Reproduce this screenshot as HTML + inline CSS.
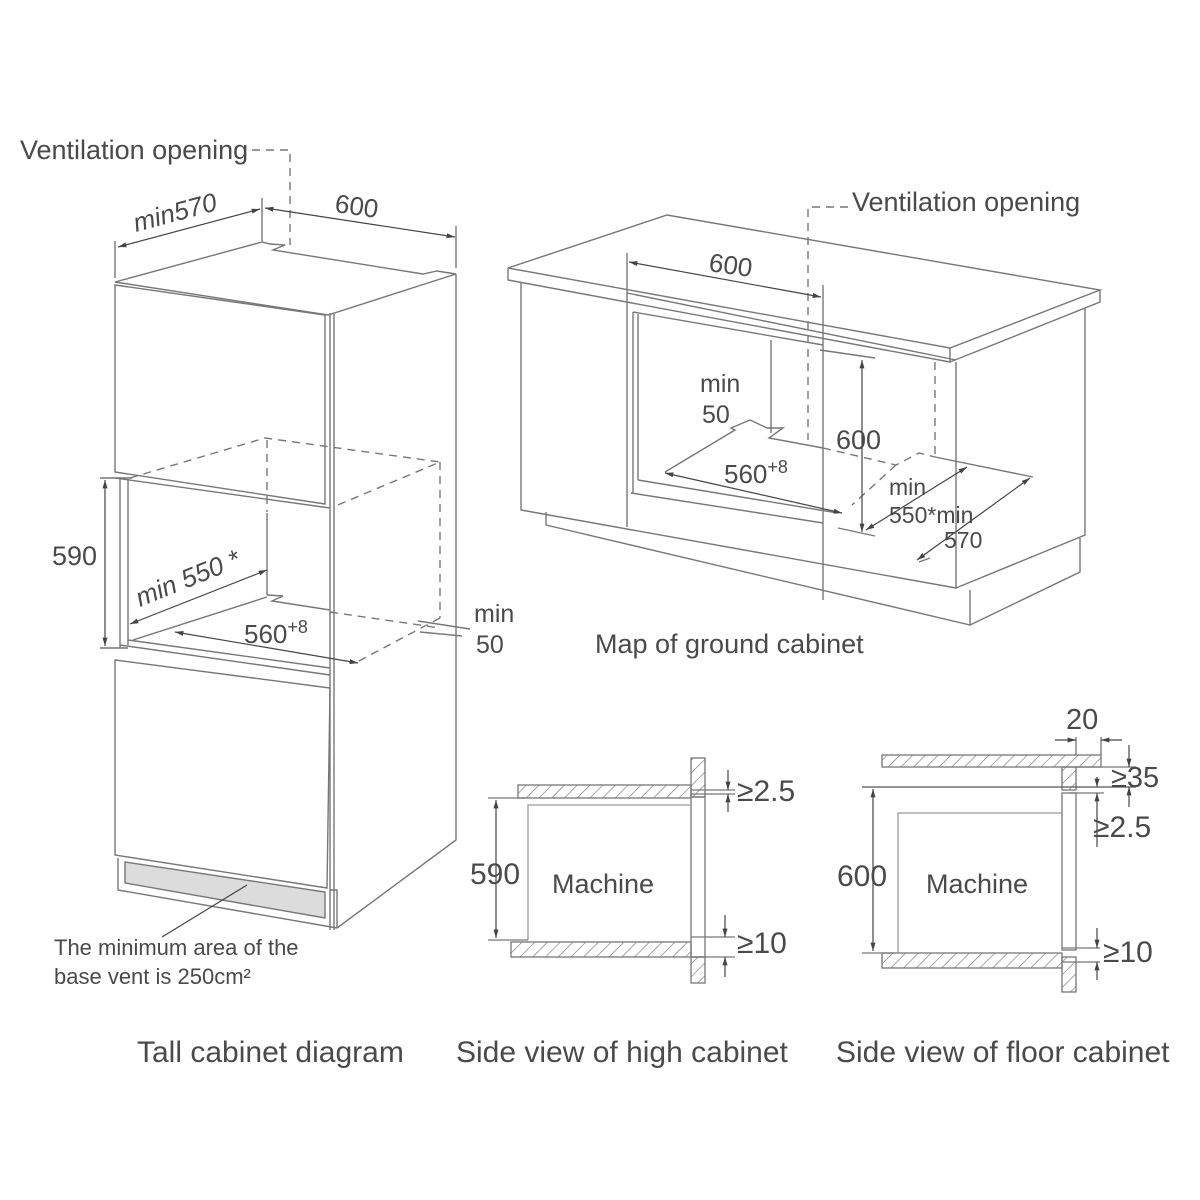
<!DOCTYPE html>
<html><head><meta charset="utf-8"><style>
html,body{margin:0;padding:0;background:#fff}
svg{display:block}
text{font-family:"Liberation Sans",Arial,sans-serif;fill:#4a4a4a}
</style></head><body>
<svg width="1200" height="1200" viewBox="0 0 1200 1200" xmlns="http://www.w3.org/2000/svg">
<defs>
<pattern id="h" patternUnits="userSpaceOnUse" width="9" height="9" patternTransform="rotate(45)">
<line x1="0" y1="0" x2="0" y2="9" stroke="#777" stroke-width="1.3"/></pattern>
<marker id="a" viewBox="0 0 10 10" refX="10" refY="5" markerWidth="7" markerHeight="7" orient="auto-start-reverse"><path d="M0,2 L10,5 L0,8 z" fill="#444"/></marker>
</defs>
<g fill="none" stroke="#777" stroke-width="1.4">
<path d="M115,282 L262,242 L270,244 L285,245 L273,250 L423,274 L437,271 L456,274 L328,315 Z"/>
<path d="M115,285 L325,315 L325,504 L115,472 Z"/>
<line x1="330" y1="313" x2="330" y2="930"/>
<line x1="334" y1="314" x2="334" y2="930"/>
<path d="M456,274 L456,840 L337,928"/>
<line x1="120" y1="478" x2="120" y2="648"/>
<line x1="128" y1="479" x2="128" y2="645"/>
<path d="M115,478 L330,508"/>
<line x1="267" y1="513" x2="267" y2="595"/>
<path d="M267,595 L283,596 L272,601 L330,610"/>
<path d="M133,640 L267,597"/>
<path d="M120,645 L330,675"/>
<path d="M128,640 L330,668"/>
<g stroke-dasharray="8,6">
<path d="M130,478 L265,438 L440,462 L333,507"/>
<line x1="267" y1="440" x2="267" y2="512"/>
<line x1="440" y1="462" x2="440" y2="618"/>
<path d="M330,612 L440,628"/>
<path d="M440,618 L357,662"/>
<path d="M252,150 L290,150 L290,245"/>
</g>
<path d="M418,621 L470,629 M420,632 L462,636" />
<path d="M115,660 L330,688 L327,888 L115,855 Z"/>
<path d="M118,858 L118,890 L337,928"/>
<path d="M125,862 L125,883 L325,918 L325,892 Z" fill="#dcdcdc"/>
<path d="M330,890 L337,890 L337,928"/>
<line x1="115" y1="241" x2="115" y2="278"/>
<line x1="262" y1="198" x2="262" y2="241"/>
<line x1="456" y1="226" x2="456" y2="268"/>
<line x1="100" y1="478" x2="132" y2="478"/>
<line x1="100" y1="648" x2="128" y2="648"/>
</g>
<g stroke="#444" stroke-width="1.2" fill="none">
<line x1="118" y1="247" x2="260" y2="209" marker-start="url(#a)" marker-end="url(#a)"/>
<line x1="265" y1="208" x2="455" y2="237" marker-start="url(#a)" marker-end="url(#a)"/>
<line x1="105" y1="480" x2="105" y2="646" marker-start="url(#a)" marker-end="url(#a)"/>
<line x1="130" y1="624" x2="267" y2="570" marker-start="url(#a)" marker-end="url(#a)"/>
<line x1="175" y1="632" x2="358" y2="663" marker-start="url(#a)" marker-end="url(#a)"/>
<line x1="247" y1="885" x2="162" y2="937"/>
</g>
<text x="20" y="159" font-size="27">Ventilation opening</text>
<text x="0" y="0" font-size="26" font-style="italic" transform="translate(136,232) rotate(-15)">min570</text>
<text x="0" y="0" font-size="26" transform="translate(334,212) rotate(8)">600</text>
<text x="52" y="565" font-size="27">590</text>
<text x="0" y="0" font-size="26" font-style="italic" transform="translate(140,607) rotate(-22)">min 550 *</text>
<text x="244" y="643" font-size="26">560<tspan font-size="18" dy="-10">+8</tspan></text>
<text x="474" y="622" font-size="25">min</text>
<text x="476" y="653" font-size="25">50</text>
<text x="54" y="955" font-size="22">The minimum area of the</text>
<text x="54" y="984" font-size="22">base vent is 250cm²</text>

<g fill="none" stroke="#777" stroke-width="1.4">
<path d="M508,268 L667,215 L1100,290 L950,348 Z"/>
<path d="M508,268 L508,280 L950,362 L950,348 M950,362 L1100,302 L1100,290"/>
<path d="M521,282 L521,510 L956,588 L956,362"/>
<path d="M1085,308 L1085,535 L956,588"/>
<path d="M546,512 L546,525 L970,625 L970,590"/>
<path d="M970,625 L1080,572 L1080,538"/>
<line x1="627" y1="253" x2="627" y2="527"/>
<path d="M627,293 L956,360"/>
<path d="M633,312 L823,345"/>
<line x1="633" y1="312" x2="633" y2="493"/>
<line x1="638" y1="314" x2="638" y2="480"/>
<path d="M631,493 L823,523 M638,480 L838,513"/>
<line x1="771" y1="340" x2="771" y2="433"/>
<path d="M665,472 L735,430 L731,428 L750,420 L767,428 L783,428 L769,438 L823,448"/>
<line x1="823" y1="285" x2="823" y2="600"/>
<line x1="820" y1="350" x2="875" y2="358"/>
<line x1="838" y1="528" x2="875" y2="536"/>
<path d="M935,457 L1033,477 M919,562 L930,558"/>
<g stroke-dasharray="8,6">
<path d="M823,448 L896,465 L919,453 L935,457"/>
<line x1="935" y1="362" x2="935" y2="457"/>
<path d="M896,465 L852,505"/>
<path d="M848,207 L808,207 L808,440"/>
</g>
</g>
<g stroke="#444" stroke-width="1.2" fill="none">
<line x1="629" y1="262" x2="821" y2="297" marker-start="url(#a)" marker-end="url(#a)"/>
<line x1="862" y1="360" x2="862" y2="532" marker-start="url(#a)" marker-end="url(#a)"/>
<line x1="665" y1="473" x2="842" y2="513" marker-start="url(#a)" marker-end="url(#a)"/>
<line x1="866" y1="530" x2="967" y2="467" marker-start="url(#a)" marker-end="url(#a)"/>
<line x1="917" y1="560" x2="1030" y2="478" marker-start="url(#a)" marker-end="url(#a)"/>
</g>
<text x="852" y="211" font-size="27">Ventilation opening</text>
<text x="0" y="0" font-size="26" transform="translate(708,271) rotate(8)">600</text>
<text x="700" y="392" font-size="25">min</text>
<text x="702" y="423" font-size="25">50</text>
<text x="836" y="449" font-size="27">600</text>
<text x="724" y="483" font-size="26">560<tspan font-size="18" dy="-10">+8</tspan></text>
<text x="889" y="495" font-size="23">min</text>
<text x="889" y="523" font-size="23">550*min</text>
<text x="944" y="548" font-size="23">570</text>
<text x="595" y="653" font-size="27">Map of ground cabinet</text>

<g stroke="#777" stroke-width="1.3">
<rect x="518" y="785" width="173" height="13" fill="url(#h)"/>
<rect x="511" y="942" width="180" height="15" fill="url(#h)"/>
<rect x="691" y="758" width="14" height="39" fill="url(#h)"/>
<rect x="691" y="797" width="14" height="160" fill="none"/>
<rect x="691" y="957" width="14" height="26" fill="url(#h)"/>
<path d="M528,940 L528,805 L691,805" fill="none" stroke="#999"/>
<line x1="488" y1="798" x2="525" y2="798"/>
<line x1="488" y1="940" x2="528" y2="940"/>
<line x1="691" y1="790" x2="735" y2="790"/>
<line x1="691" y1="794" x2="735" y2="794"/>
<line x1="691" y1="937" x2="735" y2="937"/>
<line x1="691" y1="957" x2="735" y2="957"/>
</g>
<g stroke="#444" stroke-width="1.2">
<line x1="496" y1="800" x2="496" y2="938" marker-start="url(#a)" marker-end="url(#a)"/>
<line x1="728" y1="770" x2="728" y2="790" marker-end="url(#a)"/>
<line x1="728" y1="812" x2="728" y2="794" marker-end="url(#a)"/>
<line x1="725" y1="915" x2="725" y2="937" marker-end="url(#a)"/>
<line x1="725" y1="977" x2="725" y2="957" marker-end="url(#a)"/>
</g>
<text x="470" y="884" font-size="30">590</text>
<text x="552" y="893" font-size="27">Machine</text>
<text x="737" y="801" font-size="30">≥2.5</text>
<text x="737" y="953" font-size="30">≥10</text>

<g stroke="#777" stroke-width="1.3">
<rect x="882" y="755" width="219" height="12" fill="url(#h)"/>
<rect x="882" y="953" width="180" height="15" fill="url(#h)"/>
<rect x="1062" y="767" width="14" height="23" fill="url(#h)"/>
<rect x="1062" y="793" width="14" height="157" fill="none"/>
<rect x="1062" y="957" width="14" height="35" fill="url(#h)"/>
<path d="M898,953 L898,813 L1062,813" fill="none" stroke="#999"/>
<line x1="862" y1="787" x2="1136" y2="787" stroke="#555"/>
<line x1="1076" y1="767" x2="1136" y2="767"/>
<line x1="1069" y1="793" x2="1104" y2="793"/>
<line x1="862" y1="953" x2="894" y2="953"/>
<line x1="1076" y1="737" x2="1076" y2="755"/>
<line x1="1101" y1="737" x2="1101" y2="755"/>
<line x1="1062" y1="948" x2="1100" y2="948"/>
<line x1="1062" y1="962" x2="1100" y2="962"/>
</g>
<g stroke="#444" stroke-width="1.2">
<line x1="873" y1="789" x2="873" y2="951" marker-start="url(#a)" marker-end="url(#a)"/>
<line x1="1055" y1="740" x2="1076" y2="740" marker-end="url(#a)"/>
<line x1="1122" y1="740" x2="1101" y2="740" marker-end="url(#a)"/>
<line x1="1129" y1="745" x2="1129" y2="767" marker-end="url(#a)"/>
<line x1="1129" y1="807" x2="1129" y2="787" marker-end="url(#a)"/>
<line x1="1097" y1="777" x2="1097" y2="787" marker-end="url(#a)"/>
<line x1="1097" y1="847" x2="1097" y2="793" marker-end="url(#a)"/>
<line x1="1097" y1="928" x2="1097" y2="948" marker-end="url(#a)"/>
<line x1="1097" y1="980" x2="1097" y2="962" marker-end="url(#a)"/>
</g>
<text x="1066" y="729" font-size="29">20</text>
<text x="1111" y="787" font-size="29">≥35</text>
<text x="1093" y="837" font-size="30">≥2.5</text>
<text x="1103" y="962" font-size="30">≥10</text>
<text x="837" y="886" font-size="30">600</text>
<text x="926" y="893" font-size="27">Machine</text>

<text x="137" y="1062" font-size="30">Tall cabinet diagram</text>
<text x="456" y="1062" font-size="30">Side view of high cabinet</text>
<text x="836" y="1062" font-size="30">Side view of floor cabinet</text>
</svg>
</body></html>
